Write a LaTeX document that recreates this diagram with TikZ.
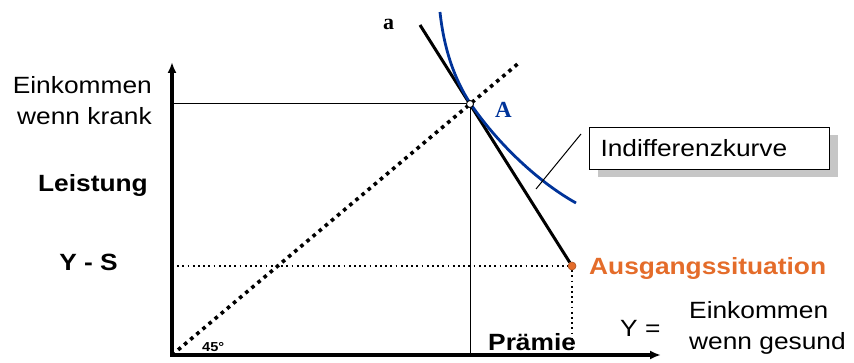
\documentclass[tikz,border=0pt]{standalone}
\usepackage{fontspec}
\setmainfont[FakeStretch=1.12]{Liberation Sans}
\newfontfamily\timesbf{Liberation Serif}
\usetikzlibrary{arrows.meta,positioning,calc,shadows}
\definecolor{kurveC}{RGB}{0,51,153}
\definecolor{ausgC}{RGB}{228,108,42}
\tikzset{
  achse/.style={line width=3.2pt, line join=miter},
  hilf/.style={line width=1pt},
  punkte/.style={line width=1.8pt, dash pattern=on 1.8pt off 3.4pt},
  diag/.style={line width=3.6pt, dash pattern=on 3.6pt off 4.4pt},
  lab/.style={inner sep=0pt, font=\fontsize{23.5}{31}\selectfont},
  labbf/.style={inner sep=0pt, font=\fontsize{23.5}{31}\selectfont\bfseries},
  serlab/.style={inner sep=0pt, font=\timesbf\fontsize{23}{25}\selectfont\bfseries},
}

\begin{document}
\begin{tikzpicture}[x=1pt,y=-1pt]
  \useasboundingbox (0,0) rectangle (854,363);
  \coordinate (o) at (172,355);
  \coordinate (ytop) at (172,62);
  \coordinate (xend) at (661,355);
  \coordinate (diagEnd) at (520,62);
  \coordinate (aTop) at (420,25);
  \coordinate (ikStart) at (440,12);
  \coordinate (ikEnd) at (576,203);
  \coordinate (ikZeiger) at (536,189);

  \node[circle, inner sep=0pt, minimum size=7pt] (pA) at (470,104) {};
  \node[circle, inner sep=0pt, minimum size=8pt] (pS) at (572,266) {};

  \draw[hilf] (o |- pA) -- (pA.west);
  \draw[hilf] (pA.south) -- (pA |- o);
  \draw[punkte] (o |- pS) -- (pS.west);
  \draw[punkte] (pS.south) -- (pS |- o);
  \draw[diag] (o) -- (diagEnd);
  \draw[line width=3pt] (aTop) -- (pS);
  \draw[kurveC, line width=2.8pt] (ikStart) .. controls (444,50) and (455,80) .. (470,103)
        .. controls (495,140) and (535,180) .. (ikEnd);
  \draw[achse, {Latex[length=11pt,width=9pt]}-{Latex[length=11pt,width=9pt]}] (ytop) -- (o) -- (xend);
  \node[circle, draw, fill=white, line width=0.9pt, inner sep=0pt, minimum size=7pt] at (pA) {};
  \node[circle, draw=ausgC!75!black, fill=ausgC, line width=0.6pt, inner sep=0pt, minimum size=8pt] at (pS) {};

  \node[draw, fill=white, line width=1pt, anchor=north west, text width=218pt, inner xsep=11pt,
        minimum height=42pt, align=left, font=\fontsize{23.5}{28}\selectfont,
        drop shadow={shadow xshift=8pt, shadow yshift=-8pt, fill=gray!45, opacity=1}]
        (ik) at (589,127) {Indifferenzkurve};
  \draw[hilf] ($(ik.north west)+(-8,7)$) -- (ikZeiger);

  \node[lab, anchor=north east, align=right] (krank) at (152,76) {Einkommen\\wenn krank};
  \node[labbf, anchor=base east] (leist) at (148,192) {Leistung};
  \node[labbf, anchor=base east] (ys) at (118,271) {Y - S};
  \node[inner sep=0pt, font=\fontsize{13}{15}\selectfont\bfseries, anchor=base west] (grad) at (202,351) {45°};
  \node[labbf, anchor=base west] (praemie) at (488,350) {Prämie};
  \node[labbf, text=ausgC, anchor=base west] (ausg) at (589,275) {Ausgangssituation};
  \node[lab, anchor=base west] (yeq) at (620,337) {Y =};
  \node[lab, anchor=north west, align=left] (gesund) at (689,301) {Einkommen\\wenn gesund};
  \node[serlab, anchor=base west, font=\timesbf\fontsize{22}{24}\selectfont\bfseries] (la) at (383,30) {a};
  \node[serlab, text=kurveC, anchor=base west] (lA) at (495,118) {A};
\end{tikzpicture}
\end{document}
